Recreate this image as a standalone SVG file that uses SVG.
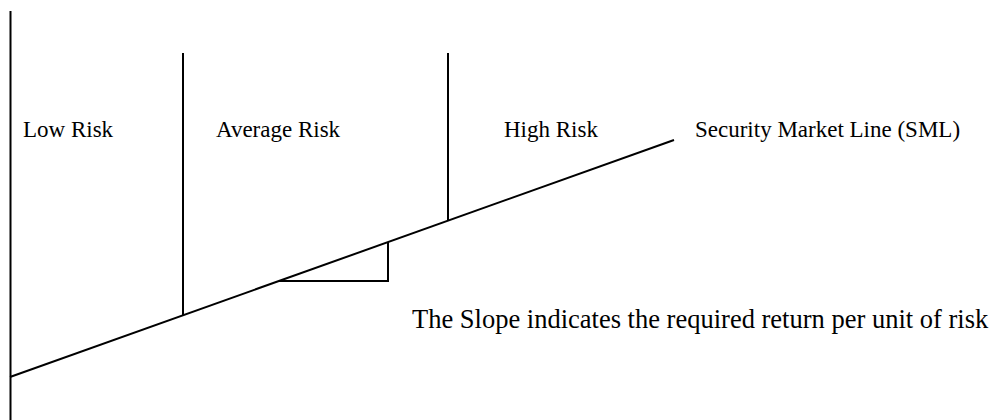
<svg xmlns="http://www.w3.org/2000/svg" width="990" height="420" viewBox="0 0 990 420">
<style>
.ln{stroke:#000;stroke-width:2;fill:none}
.t{font-family:"Liberation Serif","Times New Roman",serif;font-size:23px;fill:#000}
.s{font-size:26.5px}
</style>
<rect width="990" height="420" fill="#fff"/>
<g id="connectors">
<line class="ln" x1="10.5" y1="11" x2="10.5" y2="420"/>
<line class="ln" x1="10" y1="377" x2="674" y2="140"/>
<line class="ln" x1="183" y1="53" x2="183" y2="316"/>
<line class="ln" x1="448" y1="53" x2="448" y2="221"/>
<polyline class="ln" points="279,281 388,281 388,242"/>
</g>
<g id="low"><text class="t" x="23" y="137">Low Risk</text></g>
<g id="avg"><text class="t" x="216" y="137">Average Risk</text></g>
<g id="high"><text class="t" x="504" y="137">High Risk</text></g>
<g id="sml"><text class="t" x="695" y="137">Security Market Line (SML)</text></g>
<g id="slope"><text class="t s" x="412" y="328">The Slope indicates the required return per unit of risk</text></g>
</svg>
